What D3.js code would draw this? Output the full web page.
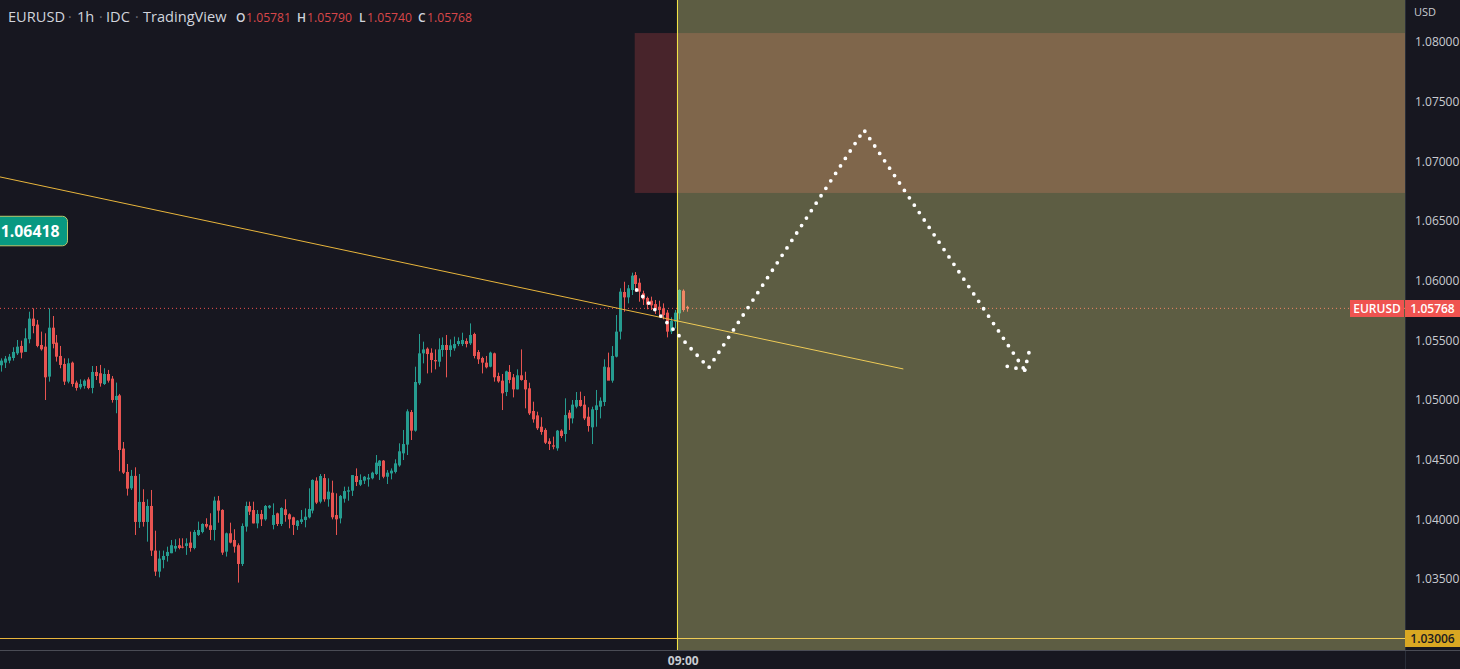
<!DOCTYPE html>
<html>
<head>
<meta charset="utf-8">
<style>
  html, body { margin: 0; padding: 0; background: #171720; overflow: hidden; }
  svg { display: block; font-family: "Open Sans", sans-serif; }
  .price-axis text, .time-axis text { fill: #c9cbd1; }
</style>
</head>
<body>
<svg width="1460" height="669"></svg>
<script src="https://cdn.jsdelivr.net/npm/d3@7"></script>
<script>
// candles, oldest first
const opens = [
  1.05291,1.05313,1.05330,1.05352,1.05391,1.05453,1.05403,1.05509,1.05682,1.05632,
  1.05461,1.05447,1.05196,1.05606,1.05481,1.05369,1.05302,1.05154,1.05313,1.05146,
  1.05106,1.05118,1.05173,1.05101,1.05235,1.05224,1.05134,1.05218,1.05179,1.05000,
  1.05039,1.04593,1.04397,1.04260,1.04364,1.03978,1.04146,1.03978,1.04112,1.03738,
  1.03562,1.03660,1.03693,1.03716,1.03755,1.03783,1.03771,1.03777,1.03805,1.03760,
  1.03869,1.03894,1.03961,1.03950,1.03911,1.04157,1.04079,1.03729,1.03883,1.03827,
  1.03783,1.03626,1.03939,1.04112,1.04078,1.03966,1.04045,1.04000,1.04098,1.03953,
  1.04050,1.03961,1.04084,1.04042,1.04017,1.03944,1.03978,1.03994,1.04017,1.04073,
  1.04324,1.04148,1.04346,1.04168,1.04223,1.04036,1.04008,1.04173,1.04232,1.04240,
  1.04363,1.04290,1.04324,1.04335,1.04344,1.04380,1.04447,1.04492,1.04357,1.04385,
  1.04397,1.04452,1.04553,1.04626,1.04899,1.04743,1.05140,1.05391,1.05430,1.05396,
  1.05335,1.05321,1.05419,1.05461,1.05419,1.05433,1.05469,1.05469,1.05494,1.05475,
  1.05553,1.05402,1.05352,1.05313,1.05279,1.05391,1.05201,1.05162,1.05067,1.05235,
  1.05190,1.05089,1.05207,1.05168,1.05098,1.04908,1.04871,1.04776,1.04749,1.04654,
  1.04620,1.04595,1.04743,1.04715,1.04894,1.04846,1.04944,1.05000,1.04961,1.04860,
  1.04771,1.04916,1.04944,1.04983,1.05274,1.05162,1.05363,1.05573,1.05905,1.05860,
  1.05922,1.06047,1.05983,1.05894,1.05855,1.05832,1.05804,1.05782,1.05768,1.05732,
  1.05573,1.05656,1.05726,1.05916,1.05781]

const highs = [
  1.05349,1.05369,1.05386,1.05442,1.05503,1.05497,1.05601,1.05740,1.05768,1.05671,
  1.05573,1.05559,1.05768,1.05704,1.05545,1.05453,1.05349,1.05349,1.05322,1.05162,
  1.05173,1.05173,1.05190,1.05285,1.05285,1.05294,1.05266,1.05252,1.05201,1.05146,
  1.05051,1.04648,1.04464,1.04414,1.04436,1.04380,1.04252,1.04168,1.04246,1.03905,
  1.03738,1.03738,1.03771,1.03827,1.03833,1.03841,1.03841,1.03841,1.03897,1.03911,
  1.03981,1.03967,1.04009,1.04051,1.04190,1.04196,1.04084,1.03889,1.03972,1.03917,
  1.03799,1.03966,1.04148,1.04148,1.04148,1.04078,1.04078,1.04120,1.04120,1.04134,
  1.04056,1.04101,1.04168,1.04050,1.04022,1.03994,1.04078,1.04092,1.04260,1.04335,
  1.04352,1.04380,1.04380,1.04344,1.04324,1.04218,1.04204,1.04274,1.04274,1.04371,
  1.04427,1.04377,1.04363,1.04380,1.04399,1.04539,1.04497,1.04497,1.04413,1.04427,
  1.04503,1.04637,1.04749,1.04922,1.04916,1.05279,1.05553,1.05489,1.05441,1.05433,
  1.05424,1.05517,1.05525,1.05545,1.05508,1.05531,1.05525,1.05564,1.05517,1.05642,
  1.05564,1.05419,1.05363,1.05369,1.05405,1.05397,1.05229,1.05218,1.05246,1.05293,
  1.05218,1.05257,1.05424,1.05237,1.05145,1.04986,1.04902,1.04855,1.04763,1.04679,
  1.04693,1.04749,1.04754,1.05014,1.04916,1.05000,1.05067,1.05070,1.05033,1.04939,
  1.04944,1.05084,1.05022,1.05341,1.05397,1.05452,1.05712,1.05936,1.05991,1.05964,
  1.06067,1.06072,1.06019,1.05916,1.05866,1.05866,1.05838,1.05832,1.05810,1.05754,
  1.05693,1.05754,1.05927,1.05927,1.05790]

const lows = [
  1.05238,1.05268,1.05308,1.05330,1.05377,1.05349,1.05403,1.05475,1.05559,1.05442,
  1.05414,1.05000,1.05154,1.05433,1.05322,1.05266,1.05126,1.05140,1.05112,1.05079,
  1.05090,1.05095,1.05090,1.05056,1.05168,1.05112,1.05126,1.05146,1.04978,1.04889,
  1.04403,1.04380,1.04199,1.04246,1.03869,1.03928,1.03939,1.03813,1.03693,1.03526,
  1.03514,1.03590,1.03646,1.03716,1.03729,1.03749,1.03757,1.03702,1.03729,1.03749,
  1.03861,1.03883,1.03925,1.03827,1.03822,1.03972,1.03702,1.03688,1.03799,1.03721,
  1.03470,1.03609,1.03897,1.04036,1.03966,1.03925,1.03944,1.03989,1.04089,1.03916,
  1.03944,1.03944,1.03980,1.03925,1.03869,1.03911,1.03961,1.03933,1.04008,1.04050,
  1.04128,1.04134,1.04148,1.04106,1.04000,1.03869,1.03966,1.04140,1.04156,1.04196,
  1.04279,1.04279,1.04296,1.04274,1.04335,1.04371,1.04330,1.04344,1.04296,1.04335,
  1.04385,1.04441,1.04497,1.04539,1.04665,1.04735,1.05126,1.05307,1.05223,1.05229,
  1.05257,1.05279,1.05363,1.05190,1.05363,1.05413,1.05452,1.05452,1.05441,1.05461,
  1.05349,1.05302,1.05223,1.05265,1.05274,1.05154,1.05145,1.04916,1.05033,1.05140,
  1.05022,1.05089,1.05162,1.04930,1.04874,1.04810,1.04749,1.04709,1.04631,1.04581,
  1.04587,1.04575,1.04682,1.04651,1.04749,1.04804,1.04930,1.04944,1.04832,1.04735,
  1.04631,1.04776,1.04846,1.04950,1.05168,1.05145,1.05357,1.05508,1.05740,1.05810,
  1.05880,1.05908,1.05824,1.05796,1.05760,1.05754,1.05721,1.05698,1.05676,1.05525,
  1.05553,1.05600,1.05676,1.05740,1.05740]

const closes = [
  1.05330,1.05347,1.05363,1.05403,1.05447,1.05397,1.05517,1.05682,1.05620,1.05453,
  1.05425,1.05190,1.05606,1.05470,1.05363,1.05294,1.05154,1.05308,1.05134,1.05101,
  1.05134,1.05162,1.05101,1.05235,1.05201,1.05140,1.05218,1.05162,1.05000,1.05034,
  1.04581,1.04391,1.04257,1.04364,1.03978,1.04146,1.03978,1.04112,1.03738,1.03562,
  1.03671,1.03693,1.03727,1.03783,1.03777,1.03760,1.03763,1.03799,1.03760,1.03894,
  1.03911,1.03961,1.03939,1.03911,1.04157,1.04073,1.03721,1.03883,1.03805,1.03771,
  1.03626,1.03944,1.04112,1.04064,1.03966,1.04045,1.04000,1.04112,1.04114,1.04036,
  1.03961,1.04095,1.04036,1.04000,1.03953,1.03989,1.04000,1.04022,1.04087,1.04330,
  1.04140,1.04363,1.04168,1.04232,1.04017,1.04000,1.04196,1.04237,1.04243,1.04371,
  1.04313,1.04330,1.04357,1.04349,1.04391,1.04475,1.04492,1.04357,1.04391,1.04408,
  1.04469,1.04570,1.04631,1.04905,1.04743,1.05151,1.05391,1.05424,1.05385,1.05335,
  1.05324,1.05424,1.05461,1.05419,1.05458,1.05469,1.05494,1.05503,1.05469,1.05545,
  1.05369,1.05341,1.05313,1.05274,1.05397,1.05190,1.05156,1.05056,1.05240,1.05168,
  1.05089,1.05207,1.05168,1.05089,1.04888,1.04838,1.04763,1.04732,1.04642,1.04631,
  1.04609,1.04743,1.04698,1.04874,1.04846,1.04961,1.05000,1.04950,1.04846,1.04782,
  1.04922,1.04955,1.04994,1.05279,1.05162,1.05369,1.05573,1.05908,1.05860,1.05936,
  1.06042,1.05972,1.05908,1.05843,1.05799,1.05793,1.05771,1.05754,1.05712,1.05573,
  1.05665,1.05732,1.05922,1.05754,1.05768]

// axis ticks
const priceTicks = [1.035, 1.04, 1.045, 1.05, 1.055, 1.06, 1.065, 1.07, 1.075, 1.08]
const timeTicks = [173]
const timeLabels = ['09:00']

// drawings, [bar index, price]
const trendLine = [[-1, 1.06874], [229, 1.05260]]
const forecastPath = [[161.3, 1.05922], [179.6, 1.05270], [219, 1.07263], [259.8, 1.05251]]
const arrowArms = [[[259.8, 1.05251], [261.1, 1.05427]], [[259.8, 1.05251], [255, 1.05285]]]
const resistanceZone = { fromBar: 160.8, top: 1.08075, bottom: 1.06735 }
const cursorBar = 171.5
const supportPrice = 1.03006
const lastPrice = 1.05768
const calloutPrice = 1.06418

// legend text
const titleParts = ['EURUSD', '1h', 'IDC', 'TradingView']
const ohlcLetters = ['O', 'H', 'L', 'C']
const ohlcValues = ['1.05781', '1.05790', '1.05740', '1.05768']

const width = 1460
    , height = 669
    , plotRight = 1405
    , plotBottom = 650
    , background = '#171720'
    , up = '#269c90'
    , down = '#e85451'
    , gold = '#e8b53c'
    , scaleX = d3.scaleLinear().domain([0, opens.length - 1]).range([1.3, 686.7])
    , scaleY = d3.scaleLinear().domain([1.035, 1.08]).range([579, 42])
    , svg = d3.select('svg')
    , bars = d3.range(opens.length)
    , line = d3.line().x(d => scaleX(d[0])).y(d => scaleY(d[1]))
    , barColor = i => closes[i] >= opens[i] ? up : down

svg.append('rect').attr('width', width).attr('height', height).attr('fill', background)

const chart = svg.append('g')

// everything in this first block ends up tinted by the cursor overlay
chart.append('rect')
    .attr('x', scaleX(resistanceZone.fromBar))
    .attr('y', scaleY(resistanceZone.top))
    .attr('width', plotRight - scaleX(resistanceZone.fromBar))
    .attr('height', scaleY(resistanceZone.bottom) - scaleY(resistanceZone.top))
    .attr('fill', '#ef5350')
    .attr('fill-opacity', 0.23)

chart.append('line')
    .attr('x1', 0).attr('x2', plotRight)
    .attr('y1', scaleY(lastPrice)).attr('y2', scaleY(lastPrice))
    .attr('stroke', '#ef5350')
    .attr('stroke-dasharray', '1 3')

chart.append('line')
    .attr('x1', 0).attr('x2', plotRight)
    .attr('y1', Math.round(scaleY(supportPrice)) + 0.5).attr('y2', Math.round(scaleY(supportPrice)) + 0.5)
    .attr('stroke', gold)

chart.selectAll('rect.wick')
    .data(bars)
    .join('rect')
    .attr('class', 'wick')
    .attr('x', i => Math.round(scaleX(i)))
    .attr('width', 1)
    .attr('y', i => scaleY(highs[i]))
    .attr('height', i => scaleY(lows[i]) - scaleY(highs[i]))
    .attr('fill', barColor)

chart.selectAll('rect.body')
    .data(bars)
    .join('rect')
    .attr('class', 'body')
    .attr('x', i => Math.round(scaleX(i)) - 1)
    .attr('width', 3)
    .attr('y', i => scaleY(Math.max(opens[i], closes[i])))
    .attr('height', i => Math.max(1, Math.abs(scaleY(opens[i]) - scaleY(closes[i]))))
    .attr('fill', barColor)

chart.append('path')
    .attr('d', line(trendLine))
    .attr('fill', 'none')
    .attr('stroke', gold)

chart.append('rect')
    .attr('x', scaleX(cursorBar))
    .attr('y', 0)
    .attr('width', plotRight - scaleX(cursorBar))
    .attr('height', plotBottom)
    .attr('fill', 'rgb(255,255,150)')
    .attr('fill-opacity', 0.3)

chart.append('line')
    .attr('x1', Math.round(scaleX(cursorBar)) + 0.5).attr('x2', Math.round(scaleX(cursorBar)) + 0.5)
    .attr('y1', 0).attr('y2', plotBottom)
    .attr('stroke', '#f3e445')

chart.selectAll('path.forecast')
    .data([forecastPath, ...arrowArms])
    .join('path')
    .attr('class', 'forecast')
    .attr('d', line)
    .attr('fill', 'none')
    .attr('stroke', '#fff')
    .attr('stroke-width', 3.8)
    .attr('stroke-linecap', 'round')
    .attr('stroke-dasharray', '0 8.9')

// axes
svg.append('rect')
    .attr('x', plotRight).attr('y', 0)
    .attr('width', width - plotRight).attr('height', height)
    .attr('fill', background)
svg.append('rect')
    .attr('x', 0).attr('y', plotBottom + 1)
    .attr('width', width).attr('height', height - plotBottom - 1)
    .attr('fill', background)
svg.append('line')
    .attr('x1', plotRight + 0.5).attr('x2', plotRight + 0.5)
    .attr('y1', 0).attr('y2', height)
    .attr('stroke', '#2a2e39')
svg.append('line')
    .attr('x1', 0).attr('x2', width)
    .attr('y1', plotBottom + 0.5).attr('y2', plotBottom + 0.5)
    .attr('stroke', '#4a4c55')

svg.append('g')
    .attr('class', 'price-axis')
    .attr('transform', `translate(${plotRight}, 0)`)
    .call(d3.axisRight(scaleY).tickValues(priceTicks).tickFormat(d3.format('.5f')).tickSize(0).tickPadding(10))
    .call(g => g.select('.domain').remove())
    .selectAll('text')
    .style('font-family', '"Open Sans", sans-serif')
    .style('font-size', '12px')

svg.append('g')
    .attr('class', 'time-axis')
    .attr('transform', `translate(0, ${plotBottom})`)
    .call(d3.axisBottom(scaleX).tickValues(timeTicks).tickFormat((d, i) => timeLabels[i]).tickSize(0).tickPadding(6))
    .call(g => g.select('.domain').remove())
    .selectAll('text')
    .style('font-family', '"Open Sans", sans-serif')
    .style('font-size', '12px')
    .style('font-weight', 700)

svg.append('text')
    .attr('x', 1414).attr('y', 16)
    .attr('fill', '#c9cbd1')
    .style('font-size', '11px')
    .text('USD')

// price tags
const tag = (x, w, price, fill, color, label) => {
    const cy = Math.round(scaleY(price)) + 0.5
    svg.append('rect')
        .attr('x', x).attr('y', cy - 8.5)
        .attr('width', w).attr('height', 17)
        .attr('fill', fill)
    svg.append('text')
        .attr('x', x + w / 2).attr('y', cy + 4)
        .attr('text-anchor', 'middle')
        .attr('fill', color)
        .style('font-size', '12px')
        .style('font-weight', 600)
        .text(label)
}
tag(1350, 54, lastPrice, '#ef5350', '#fff', 'EURUSD')
tag(1405, 55, lastPrice, '#ef5350', '#fff', lastPrice.toFixed(5))
tag(1405, 55, supportPrice, '#d9a722', '#1a1a20', supportPrice.toFixed(5))

// callout cut by the left edge
svg.append('rect')
    .attr('x', -12).attr('y', scaleY(calloutPrice) - 14.5)
    .attr('width', 79.5).attr('height', 29.5)
    .attr('rx', 5)
    .attr('fill', '#089981')
    .attr('stroke', '#b9c86c')
svg.append('text')
    .attr('x', 59.5).attr('y', scaleY(calloutPrice) + 6)
    .attr('text-anchor', 'end')
    .attr('fill', '#fff')
    .style('font-size', '15.8px')
    .style('font-weight', 700)
    .text(calloutPrice.toFixed(5))

// legend
const titleX = [8, 77, 106, 143]
    , dotX = [68, 99, 135]
    , letterX = [236, 297, 359, 418]
    , valueX = [246, 307, 367, 427]
    , legend = svg.append('g').attr('transform', 'translate(0, 22)')

legend.selectAll('text.title')
    .data(titleParts)
    .join('text')
    .attr('class', 'title')
    .attr('x', (d, i) => titleX[i])
    .attr('fill', '#d1d4dc')
    .style('font-size', '14.6px')
    .text(d => d)
legend.selectAll('text.sep')
    .data(dotX)
    .join('text')
    .attr('class', 'sep')
    .attr('x', d => d)
    .attr('fill', '#6a6d78')
    .style('font-size', '14px')
    .text('·')
legend.selectAll('text.letter')
    .data(ohlcLetters)
    .join('text')
    .attr('class', 'letter')
    .attr('x', (d, i) => letterX[i])
    .attr('fill', '#d1d4dc')
    .style('font-size', '12px')
    .style('font-weight', 600)
    .text(d => d)
legend.selectAll('text.value')
    .data(ohlcValues)
    .join('text')
    .attr('class', 'value')
    .attr('x', (d, i) => valueX[i])
    .attr('fill', '#d9474a')
    .style('font-size', '12.2px')
    .text(d => d)
</script>
</body>
</html>
